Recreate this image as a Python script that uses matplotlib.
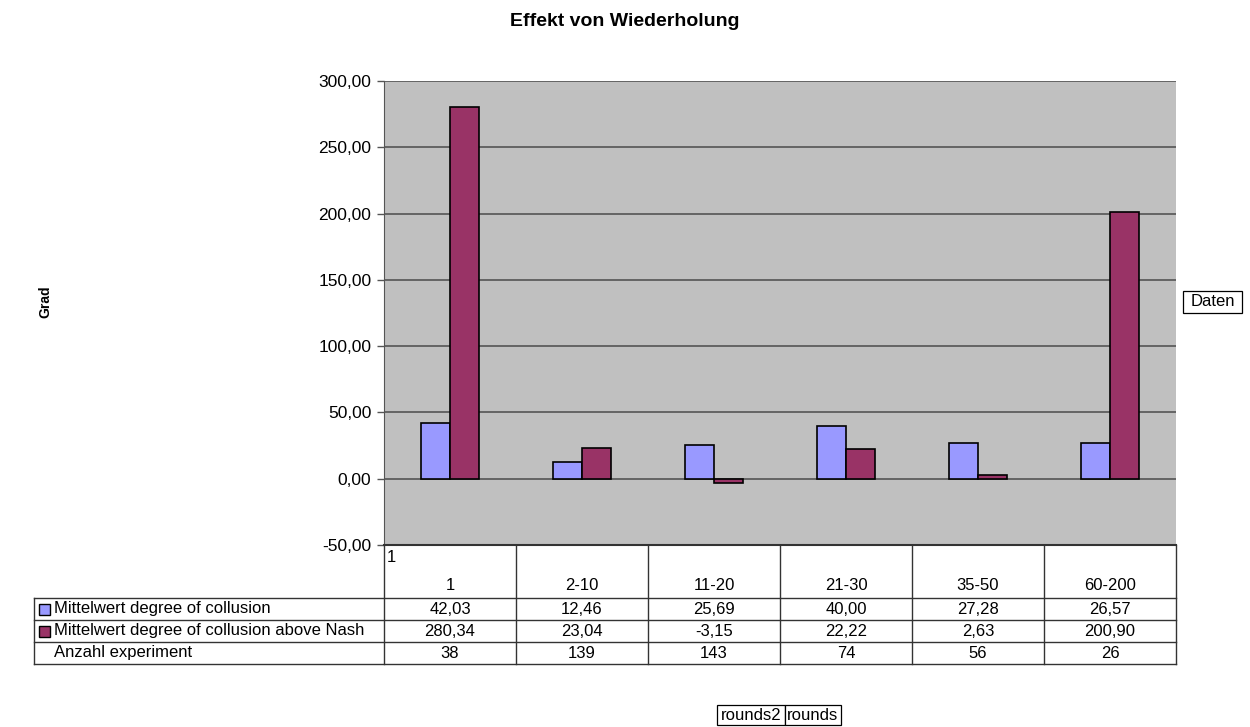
import matplotlib
matplotlib.use("Agg")
import matplotlib.pyplot as plt
import numpy as np

plt.rcParams["font.family"] = ["Liberation Sans", "DejaVu Sans"]

categories = ["1", "2-10", "11-20", "21-30", "35-50", "60-200"]
collusion = [42.03, 12.46, 25.69, 40.00, 27.28, 26.57]
above_nash = [280.34, 23.04, -3.15, 22.22, 2.63, 200.90]
n_experiments = [38, 139, 143, 74, 56, 26]
series_names = ["Mittelwert degree of collusion",
                "Mittelwert degree of collusion above Nash",
                "Anzahl experiment"]
y_ticks = [-50, 0, 50, 100, 150, 200, 250, 300]

BLUE = "#9999FF"
PURPLE = "#993366"
GRAY = "#C0C0C0"
W, H = 1250, 727
FS = 12


def fmt(v):
    return f"{v:.2f}".replace(".", ",")


fig = plt.figure(figsize=(W / 100, H / 100), dpi=100)

# plot area in pixel coordinates
px_l, px_r, px_t, px_b = 384, 1176, 81, 545
ax = fig.add_axes([px_l / W, 1 - px_b / H, (px_r - px_l) / W, (px_b - px_t) / H])
ax.set_facecolor(GRAY)
x = np.arange(len(categories))
bw = 0.22
ax.bar(x - bw / 2, collusion, bw, color=BLUE, edgecolor="black", linewidth=1.2, zorder=3)
ax.bar(x + bw / 2, above_nash, bw, color=PURPLE, edgecolor="black", linewidth=1.2, zorder=3)
ax.set_xlim(-0.5, len(categories) - 0.5)
ax.set_ylim(-50, 300)
ax.set_yticks(y_ticks)
ax.set_yticklabels([fmt(v) for v in y_ticks], fontsize=12.5)
ax.yaxis.grid(True, color="#555555", linewidth=1.2, zorder=1)
ax.set_xticks([])
ax.tick_params(axis="y", length=5, color="#555555", width=1, pad=4)
for s in ["top", "right"]:
    ax.spines[s].set_visible(False)
ax.spines["left"].set_color("#555555")
ax.spines["bottom"].set_color("#333333")
ax.spines["bottom"].set_linewidth(1.5)

fig.text(0.5, 1 - 22 / H, "Effekt von Wiederholung", ha="center", va="center",
         fontsize=14, fontweight="bold")
fig.text(45 / W, 1 - 302 / H, "Grad", rotation=90, ha="center", va="center",
         fontsize=10, fontweight="bold")

# overlay in pixel coordinates for the data table and boxes
ov = fig.add_axes([0, 0, 1, 1], facecolor="none")
ov.set_xlim(0, W)
ov.set_ylim(H, 0)
ov.axis("off")

col_w = (px_r - px_l) / len(categories)
rows_y = [598, 620, 642, 664]
tbl_l = 34
lc = "#333333"
for yy in rows_y:
    ov.plot([tbl_l, px_r], [yy, yy], color=lc, lw=1)
ov.plot([tbl_l, tbl_l], [rows_y[0], rows_y[-1]], color=lc, lw=1)
for i in range(len(categories) + 1):
    xx = px_l + i * col_w
    ov.plot([xx, xx], [px_b, rows_y[-1]], color=lc, lw=1)

ov.text(px_l + 3, 557, "1", ha="left", va="center", fontsize=FS)
for i, c in enumerate(categories):
    cx = px_l + (i + 0.5) * col_w
    ov.text(cx, 586, c, ha="center", va="center", fontsize=FS)
    ov.text(cx, 609, fmt(collusion[i]), ha="center", va="center", fontsize=FS)
    ov.text(cx, 631, fmt(above_nash[i]), ha="center", va="center", fontsize=FS)
    ov.text(cx, 653, str(n_experiments[i]), ha="center", va="center", fontsize=FS)

# row labels with legend keys
for j, (name, yy) in enumerate(zip(series_names, [609, 631, 653])):
    if j < 2:
        ov.add_patch(plt.Rectangle((39, yy - 5.5), 11, 11, facecolor=[BLUE, PURPLE][j],
                                   edgecolor="black", lw=1))
    ov.text(54, yy, name, ha="left", va="center", fontsize=FS)

# boxed labels
ov.add_patch(plt.Rectangle((1183, 291), 59, 22, facecolor="white", edgecolor="black", lw=0.9))
ov.text(1212.5, 302, "Daten", ha="center", va="center", fontsize=FS)
ov.add_patch(plt.Rectangle((717, 705), 68, 20, facecolor="white", edgecolor="black", lw=0.9))
ov.add_patch(plt.Rectangle((785, 705), 56, 20, facecolor="white", edgecolor="black", lw=0.9))
ov.text(751, 715, "rounds2", ha="center", va="center", fontsize=FS)
ov.text(813, 715, "rounds", ha="center", va="center", fontsize=FS)

fig.savefig("out.png", dpi=100)
